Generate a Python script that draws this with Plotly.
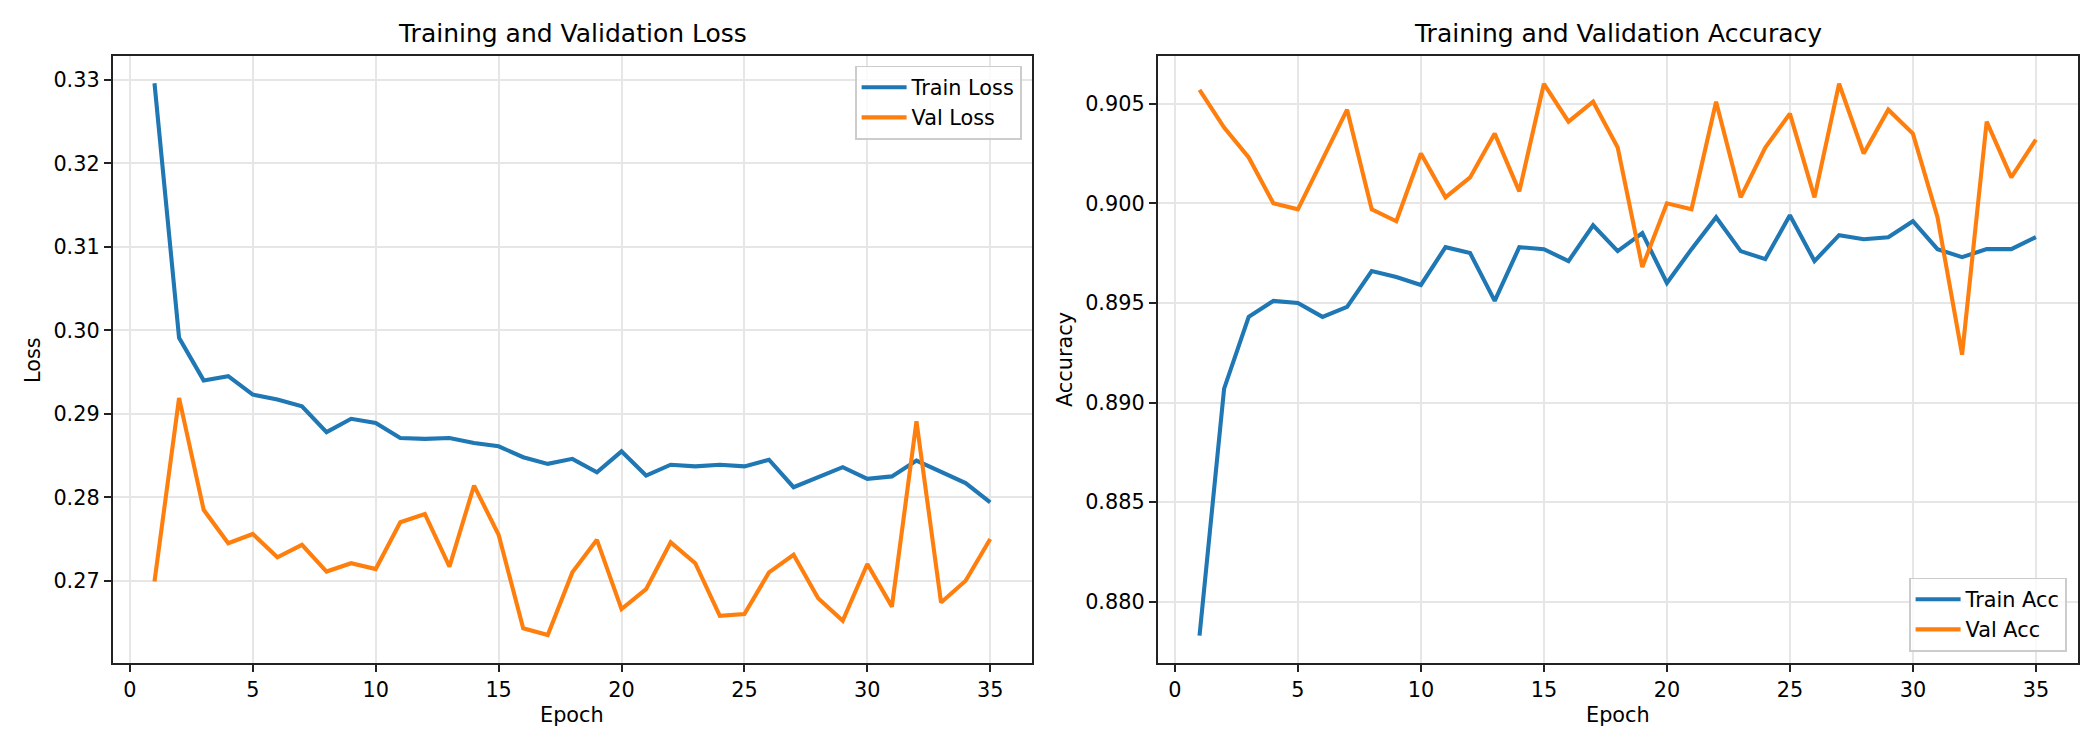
import plotly.graph_objects as go

epochs = list(range(1, 36))

train_loss = [0.3296, 0.2991, 0.2940, 0.2945, 0.2923, 0.2917, 0.2909, 0.2878, 0.2894, 0.2889,
              0.2871, 0.2870, 0.2871, 0.2865, 0.2861, 0.2848, 0.2840, 0.2846, 0.2830, 0.2855,
              0.2826, 0.2839, 0.2837, 0.2839, 0.2837, 0.2845, 0.2812, 0.2824, 0.2836, 0.2822,
              0.2825, 0.2844, 0.2830, 0.2817, 0.2794]
val_loss = [0.2699, 0.2919, 0.2785, 0.2745, 0.2756, 0.2728, 0.2743, 0.2711, 0.2721, 0.2714,
            0.2770, 0.2780, 0.2717, 0.2814, 0.2755, 0.2643, 0.2635, 0.2710, 0.2749, 0.2666,
            0.2690, 0.2746, 0.2721, 0.2658, 0.2660, 0.2710, 0.2731, 0.2679, 0.2652, 0.2720,
            0.2669, 0.2891, 0.2674, 0.2700, 0.2750]

train_acc = [0.8783, 0.8907, 0.8943, 0.8951, 0.8950, 0.8943, 0.8948, 0.8966, 0.8963, 0.8959,
             0.8978, 0.8975, 0.8951, 0.8978, 0.8977, 0.8971, 0.8989, 0.8976, 0.8985, 0.8960,
             0.8977, 0.8993, 0.8976, 0.8972, 0.8994, 0.8971, 0.8984, 0.8982, 0.8983, 0.8991,
             0.8977, 0.8973, 0.8977, 0.8977, 0.8983]
val_acc = [0.9057, 0.9038, 0.9023, 0.9000, 0.8997, 0.9022, 0.9047, 0.8997, 0.8991, 0.9025,
           0.9003, 0.9013, 0.9035, 0.9006, 0.9060, 0.9041, 0.9051, 0.9028, 0.8968, 0.9000,
           0.8997, 0.9051, 0.9003, 0.9028, 0.9045, 0.9003, 0.9060, 0.9025, 0.9047, 0.9035,
           0.8993, 0.8924, 0.9041, 0.9013, 0.9032]

x_ticks = [0, 5, 10, 15, 20, 25, 30, 35]
loss_ticks = [0.27, 0.28, 0.29, 0.30, 0.31, 0.32, 0.33]
acc_ticks = [0.880, 0.885, 0.890, 0.895, 0.900, 0.905]

BLUE = "#1f77b4"
ORANGE = "#ff7f0e"
FONT = "DejaVu Sans"
W, H = 2100, 750
LW = 4.1

fig = go.Figure()
fig.add_trace(go.Scatter(x=epochs, y=train_loss, mode="lines", name="Train Loss",
                         line=dict(color=BLUE, width=LW), xaxis="x", yaxis="y", legend="legend"))
fig.add_trace(go.Scatter(x=epochs, y=val_loss, mode="lines", name="Val Loss",
                         line=dict(color=ORANGE, width=LW), xaxis="x", yaxis="y", legend="legend"))
fig.add_trace(go.Scatter(x=epochs, y=train_acc, mode="lines", name="Train Acc",
                         line=dict(color=BLUE, width=LW), xaxis="x2", yaxis="y2", legend="legend2"))
fig.add_trace(go.Scatter(x=epochs, y=val_acc, mode="lines", name="Val Acc",
                         line=dict(color=ORANGE, width=LW), xaxis="x2", yaxis="y2", legend="legend2"))

top_px, bot_px = 55.7, 662.7
ydom = [1 - bot_px / H, 1 - top_px / H]
left_dom = [112.7 / W, 1032 / W]
right_dom = [1157.7 / W, 2077.7 / W]

axis_common = dict(
    showline=True, linecolor="#222222", linewidth=1.7, mirror=True,
    ticks="outside", ticklen=7, tickwidth=1.7, tickcolor="#222222",
    showgrid=True, gridcolor="#e6e6e6", gridwidth=1.6,
    zeroline=False,
    tickfont=dict(family=FONT, size=20.8, color="black"),
)

legend_common = dict(
    bgcolor="rgba(255,255,255,0.8)", bordercolor="#cccccc", borderwidth=1.6,
    font=dict(family=FONT, size=20.8, color="black"),
    itemwidth=45, tracegroupgap=0,
)

fig.update_layout(
    width=W, height=H,
    margin=dict(l=0, r=0, t=0, b=0),
    paper_bgcolor="white", plot_bgcolor="white",
    font=dict(family=FONT, color="black"),
    xaxis=dict(domain=left_dom, range=[-0.7, 36.7], tickvals=x_ticks, anchor="y", **axis_common),
    yaxis=dict(domain=ydom, range=[0.26018, 0.3329], tickvals=loss_ticks, tickformat=".2f",
               anchor="x", **axis_common),
    xaxis2=dict(domain=right_dom, range=[-0.7, 36.7], tickvals=x_ticks, anchor="y2", **axis_common),
    yaxis2=dict(domain=ydom, range=[0.87694, 0.90741], tickvals=acc_ticks, tickformat=".3f",
                anchor="x2", **axis_common),
    legend=dict(x=1022 / W, y=1 - 65.7 / H, xanchor="right", yanchor="top", **legend_common),
    legend2=dict(x=2067 / W, y=1 - 651.7 / H, xanchor="right", yanchor="bottom", **legend_common),
    showlegend=True,
)

annotations = [
    dict(text="Training and Validation Loss", x=(left_dom[0] + left_dom[1]) / 2, y=1 - 33.5 / H,
         xref="paper", yref="paper", xanchor="center", yanchor="middle", showarrow=False,
         font=dict(family=FONT, size=25, color="black")),
    dict(text="Training and Validation Accuracy", x=(right_dom[0] + right_dom[1]) / 2, y=1 - 33.5 / H,
         xref="paper", yref="paper", xanchor="center", yanchor="middle", showarrow=False,
         font=dict(family=FONT, size=25, color="black")),
    dict(text="Epoch", x=(left_dom[0] + left_dom[1]) / 2, y=1 - 715 / H,
         xref="paper", yref="paper", xanchor="center", yanchor="middle", showarrow=False,
         font=dict(family=FONT, size=20.8, color="black")),
    dict(text="Epoch", x=(right_dom[0] + right_dom[1]) / 2, y=1 - 715 / H,
         xref="paper", yref="paper", xanchor="center", yanchor="middle", showarrow=False,
         font=dict(family=FONT, size=20.8, color="black")),
    dict(text="Loss", x=33 / W, y=1 - 360 / H, textangle=-90,
         xref="paper", yref="paper", xanchor="center", yanchor="middle", showarrow=False,
         font=dict(family=FONT, size=20.8, color="black")),
    dict(text="Accuracy", x=1065 / W, y=1 - 360 / H, textangle=-90,
         xref="paper", yref="paper", xanchor="center", yanchor="middle", showarrow=False,
         font=dict(family=FONT, size=20.8, color="black")),
]
fig.update_layout(annotations=annotations)

fig.write_html("out.html")
